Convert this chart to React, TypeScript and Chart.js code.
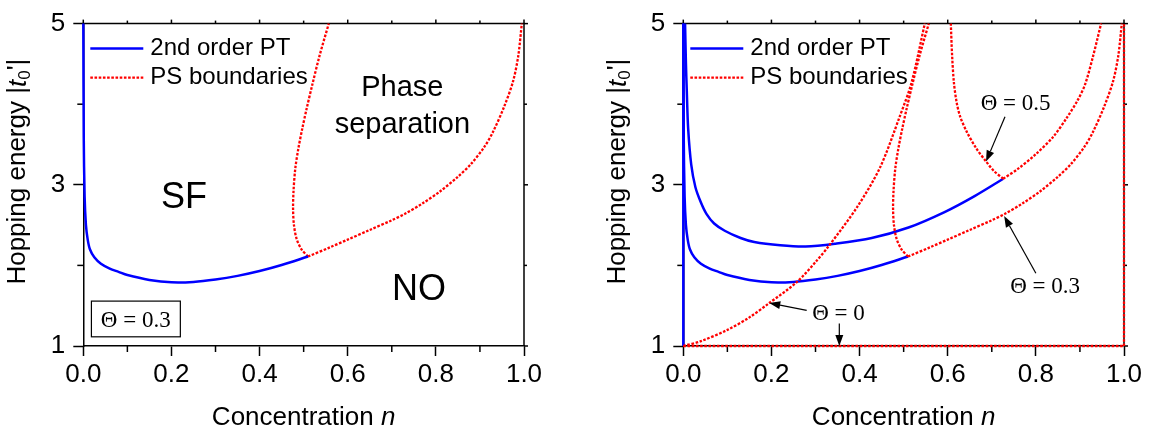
import React, { useEffect, useRef } from 'react';
import { Chart, registerables } from 'chart.js';

Chart.register(...registerables);

const SANS = '"Liberation Sans", Arial, Helvetica, sans-serif';
const SERIF = '"Liberation Serif", "Times New Roman", Times, serif';
const BLUE = '#0000ff';
const RED = '#ff0000';

// ---- axes / ticks ----
const X_TICK_LABELS = ['0.0', '0.2', '0.4', '0.6', '0.8', '1.0'];
const Y_TICK_LABELS = ['1', '3', '5'];
const X_MINOR_TICKS = [0.1, 0.3, 0.5, 0.7, 0.9];
const X_MAJOR_TICKS = [0, 0.2, 0.4, 0.6, 0.8, 1.0];
const Y_MINOR_TICKS = [2, 4];
const Y_MAJOR_TICKS = [1, 3, 5];

// ---- 2nd order phase transition lines ----
const pt0N = [0, 0];
const pt0T = [1, 5];

const pt03N = [0, 0.001, 0.003, 0.006, 0.01, 0.015, 0.025, 0.04, 0.06, 0.08, 0.1, 0.15, 0.2, 0.25, 0.3, 0.35, 0.4, 0.45, 0.51];
const pt03T = [5, 3.6, 2.85, 2.5, 2.32, 2.2, 2.1, 2.02, 1.96, 1.92, 1.88, 1.82, 1.79, 1.795, 1.825, 1.87, 1.93, 2.005, 2.11];

const pt05N = [0.004, 0.006, 0.008, 0.011, 0.018, 0.0275, 0.04, 0.0525, 0.07, 0.094, 0.13, 0.161, 0.22, 0.2775, 0.344, 0.4275, 0.511, 0.594, 0.661, 0.726];
const pt05T = [5, 4.5, 4.15, 3.7, 3.25, 2.97, 2.78, 2.64, 2.52, 2.43, 2.34, 2.29, 2.25, 2.235, 2.27, 2.34, 2.47, 2.665, 2.86, 3.075];

// ---- phase separation boundaries ----
const ps0CurveN = [0, 0.04, 0.1, 0.15, 0.195, 0.257, 0.303, 0.33, 0.394, 0.446, 0.492, 0.518, 0.548];
const ps0CurveT = [1, 1.06, 1.2, 1.355, 1.533, 1.79, 2.06, 2.24, 2.72, 3.21, 3.86, 4.27, 5];
const ps0BottomN = [0, 1];
const ps0BottomT = [1, 1];
const ps0EdgeN = [1, 1];
const ps0EdgeT = [1, 5];

const ps03LeftN = [0.51, 0.495, 0.484, 0.478, 0.476, 0.477, 0.481, 0.488, 0.497, 0.507, 0.52, 0.536, 0.557];
const ps03LeftT = [2.11, 2.2, 2.33, 2.5, 2.7, 2.92, 3.2, 3.45, 3.7, 3.95, 4.25, 4.6, 5];
const ps03RightN = [0.51, 0.56, 0.6, 0.65, 0.7, 0.73, 0.77, 0.81, 0.85, 0.88, 0.91, 0.93, 0.955, 0.975, 0.987, 0.995];
const ps03RightT = [2.11, 2.225, 2.32, 2.44, 2.56, 2.64, 2.77, 2.92, 3.1, 3.26, 3.47, 3.66, 3.97, 4.28, 4.6, 5.0];

const ps05LeftN = [0.726, 0.705, 0.687, 0.665, 0.643, 0.628, 0.62, 0.614, 0.61, 0.607];
const ps05LeftT = [3.075, 3.17, 3.29, 3.45, 3.66, 3.85, 4.03, 4.27, 4.6, 5];
const ps05RightN = [0.726, 0.76, 0.8, 0.84, 0.87, 0.895, 0.912, 0.93, 0.948];
const ps05RightT = [3.075, 3.2, 3.38, 3.6, 3.83, 4.05, 4.25, 4.6, 5.0];

const LEGEND_LABELS = ['2nd order PT', 'PS boundaries'];

const RED_DASH = [2.6, 1.6];

const zip = (xs: number[], ys: number[]) => xs.map((x, i) => ({ x, y: ys[i] }));

const blueLine = (xs: number[], ys: number[], tension = 0.3) => ({
  data: zip(xs, ys),
  borderColor: BLUE,
  backgroundColor: BLUE,
  borderWidth: 2.5,
  tension,
  showLine: true,
  pointRadius: 0,
  fill: false,
  clip: 5,
});
const redLine = (xs: number[], ys: number[], tension = 0.3) => ({
  data: zip(xs, ys),
  borderColor: RED,
  backgroundColor: RED,
  borderWidth: 2.3,
  borderDash: RED_DASH,
  tension,
  showLine: true,
  pointRadius: 0,
  fill: false,
  clip: 5,
});

type Ann =
  | { kind: 'text'; n: number; t: number; text: string; font: string }
  | { kind: 'box'; n1: number; t1: number; n2: number; t2: number }
  | { kind: 'arrow'; n1: number; t1: number; n2: number; t2: number };

type Spec = {
  left: number;
  w: number;
  yAxisW: number;
  padRight: number;
  datasets: any[];
  anns: Ann[];
};

function line(ctx: CanvasRenderingContext2D, x1: number, y1: number, x2: number, y2: number) {
  ctx.beginPath();
  ctx.moveTo(x1, y1);
  ctx.lineTo(x2, y2);
  ctx.stroke();
}

function arrow(ctx: CanvasRenderingContext2D, x1: number, y1: number, x2: number, y2: number) {
  const ang = Math.atan2(y2 - y1, x2 - x1);
  const L = 11;
  const W = 4;
  const bx = x2 - L * Math.cos(ang);
  const by = y2 - L * Math.sin(ang);
  ctx.lineWidth = 1.2;
  line(ctx, x1, y1, bx, by);
  ctx.beginPath();
  ctx.moveTo(x2, y2);
  ctx.lineTo(bx + W * Math.sin(ang), by - W * Math.cos(ang));
  ctx.lineTo(bx - W * Math.sin(ang), by + W * Math.cos(ang));
  ctx.closePath();
  ctx.fill();
}

function makePlugin(spec: Spec) {
  return {
    id: 'panelDeco',
    beforeDatasetsDraw(chart: any) {
      const { ctx, chartArea: a, scales } = chart;
      const x = scales.x;
      const y = scales.y;
      ctx.save();
      ctx.strokeStyle = '#000';
      ctx.lineWidth = 1.5;
      line(ctx, a.left - 0.75, a.top, a.right + 0.75, a.top);
      line(ctx, a.right, a.top, a.right, a.bottom);
      X_MINOR_TICKS.forEach((v) => {
        const px = x.getPixelForValue(v);
        line(ctx, px, a.bottom, px, a.bottom + 6);
        line(ctx, px, a.top, px, a.top - 3);
      });
      X_MAJOR_TICKS.forEach((v) => {
        const px = x.getPixelForValue(v);
        line(ctx, px, a.top, px, a.top - 4);
      });
      Y_MINOR_TICKS.forEach((v) => {
        const py = y.getPixelForValue(v);
        line(ctx, a.left, py, a.left - 6, py);
        line(ctx, a.right, py, a.right + 3, py);
      });
      Y_MAJOR_TICKS.forEach((v) => {
        const py = y.getPixelForValue(v);
        line(ctx, a.right, py, a.right + 4, py);
      });
      ctx.restore();
    },
    afterDraw(chart: any) {
      const { ctx, chartArea: a, scales } = chart;
      const x = scales.x;
      const y = scales.y;
      ctx.save();
      ctx.fillStyle = '#000';
      ctx.strokeStyle = '#000';

      // y title
      ctx.save();
      ctx.translate(a.left - 65, a.top + 261);
      ctx.rotate(-Math.PI / 2);
      ctx.textAlign = 'left';
      ctx.textBaseline = 'middle';
      let xx = 0;
      const reg = `26px ${SANS}`;
      ctx.font = reg;
      ctx.fillText('Hopping energy |', xx, 0);
      xx += ctx.measureText('Hopping energy |').width;
      ctx.font = `italic 26px ${SANS}`;
      ctx.fillText('t', xx, 0);
      xx += ctx.measureText('t').width;
      ctx.font = `17px ${SANS}`;
      ctx.fillText('0', xx, 7);
      xx += ctx.measureText('0').width;
      ctx.font = reg;
      ctx.fillText("'|", xx, 0);
      ctx.restore();

      // x title
      ctx.textBaseline = 'alphabetic';
      ctx.textAlign = 'left';
      ctx.font = reg;
      const p1 = 'Concentration ';
      const w1 = ctx.measureText(p1).width;
      ctx.font = `italic 26px ${SANS}`;
      const w2 = ctx.measureText('n').width;
      const cx = (a.left + a.right) / 2;
      const sx = cx - (w1 + w2) / 2;
      ctx.font = reg;
      ctx.fillText(p1, sx, 425);
      ctx.font = `italic 26px ${SANS}`;
      ctx.fillText('n', sx + w1, 425);

      // legend
      const rows = [a.top + 25, a.top + 54];
      ctx.lineWidth = 2.5;
      ctx.strokeStyle = BLUE;
      line(ctx, a.left + 7, rows[0], a.left + 60, rows[0]);
      ctx.lineWidth = 2.3;
      ctx.strokeStyle = RED;
      ctx.setLineDash(RED_DASH);
      line(ctx, a.left + 7, rows[1], a.left + 60, rows[1]);
      ctx.setLineDash([]);
      ctx.font = `24px ${SANS}`;
      ctx.textBaseline = 'middle';
      ctx.textAlign = 'left';
      ctx.fillStyle = '#000';
      ctx.fillText(LEGEND_LABELS[0], a.left + 67, rows[0]);
      ctx.fillText(LEGEND_LABELS[1], a.left + 67, rows[1]);

      // annotations
      ctx.strokeStyle = '#000';
      ctx.fillStyle = '#000';
      spec.anns.forEach((an) => {
        if (an.kind === 'text') {
          ctx.font = an.font;
          ctx.textAlign = 'center';
          ctx.textBaseline = 'middle';
          ctx.fillText(an.text, x.getPixelForValue(an.n), y.getPixelForValue(an.t));
        } else if (an.kind === 'box') {
          const x1 = x.getPixelForValue(an.n1);
          const x2 = x.getPixelForValue(an.n2);
          const y1 = y.getPixelForValue(an.t1);
          const y2 = y.getPixelForValue(an.t2);
          ctx.lineWidth = 1.2;
          ctx.strokeRect(x1, y1, x2 - x1, y2 - y1);
        } else {
          arrow(
            ctx,
            x.getPixelForValue(an.n1),
            y.getPixelForValue(an.t1),
            x.getPixelForValue(an.n2),
            y.getPixelForValue(an.t2)
          );
        }
      });
      ctx.restore();
    },
  };
}

function buildConfig(spec: Spec): any {
  const tickFont = { family: SANS, size: 26 };
  return {
    type: 'scatter',
    data: { datasets: spec.datasets },
    plugins: [makePlugin(spec)],
    options: {
      animation: false,
      responsive: false,
      maintainAspectRatio: false,
      events: [],
      layout: { padding: { left: 0, right: spec.padRight, top: 21, bottom: 0 } },
      plugins: { legend: { display: false }, tooltip: { enabled: false } },
      elements: { point: { radius: 0 } },
      scales: {
        x: {
          type: 'linear',
          position: 'bottom',
          min: 0,
          max: 1,
          ticks: {
            stepSize: 0.2,
            autoSkip: false,
            maxRotation: 0,
            padding: 3,
            color: '#000',
            font: tickFont,
            callback: (v: number) => X_TICK_LABELS[Math.round(v / 0.2)] ?? '',
          },
          grid: {
            drawOnChartArea: false,
            drawTicks: true,
            tickLength: 10,
            tickColor: '#000',
            tickWidth: 1.5,
          },
          border: { display: true, color: '#000', width: 1.5 },
          afterFit: (s: any) => {
            s.height = 84;
          },
        },
        y: {
          type: 'linear',
          position: 'left',
          min: 1,
          max: 5,
          ticks: {
            stepSize: 2,
            autoSkip: false,
            padding: 8,
            color: '#000',
            font: tickFont,
            callback: (v: number) => Y_TICK_LABELS[Math.round((v - 1) / 2)] ?? '',
          },
          grid: {
            drawOnChartArea: false,
            drawTicks: true,
            tickLength: 10,
            tickColor: '#000',
            tickWidth: 1.5,
          },
          border: { display: true, color: '#000', width: 1.5 },
          afterFit: (s: any) => {
            s.width = spec.yAxisW;
          },
        },
      },
    },
  };
}

const THETA_FONT = `23px ${SERIF}`;

const leftSpec: Spec = {
  left: 0,
  w: 580,
  yAxisW: 83.3,
  padRight: 56,
  datasets: [
    blueLine(pt03N, pt03T),
    redLine(ps03LeftN, ps03LeftT),
    redLine(ps03RightN, ps03RightT),
  ],
  anns: [
    { kind: 'text', n: 0.2285, t: 2.838, text: 'SF', font: `36px ${SANS}` },
    { kind: 'text', n: 0.762, t: 1.689, text: 'NO', font: `36px ${SANS}` },
    { kind: 'text', n: 0.724, t: 4.2, text: 'Phase', font: `29px ${SANS}` },
    { kind: 'text', n: 0.724, t: 3.741, text: 'separation', font: `29px ${SANS}` },
    { kind: 'box', n1: 0.0184, t1: 1.557, n2: 0.2202, t2: 1.114 },
    { kind: 'text', n: 0.119, t: 1.311, text: 'Θ = 0.3', font: THETA_FONT },
  ],
};

const rightSpec: Spec = {
  left: 580,
  w: 575,
  yAxisW: 103.3,
  padRight: 31,
  datasets: [
    redLine(ps0CurveN, ps0CurveT),
    redLine(ps03LeftN, ps03LeftT),
    redLine(ps03RightN, ps03RightT),
    redLine(ps05LeftN, ps05LeftT),
    redLine(ps05RightN, ps05RightT),
    blueLine(pt0N, pt0T, 0),
    blueLine(pt03N, pt03T),
    blueLine(pt05N, pt05T),
    redLine(ps0BottomN, ps0BottomT, 0),
    redLine(ps0EdgeN, ps0EdgeT, 0),
  ],
  anns: [
    { kind: 'text', n: 0.754, t: 4.007, text: 'Θ = 0.5', font: THETA_FONT },
    { kind: 'arrow', n1: 0.73, t1: 3.843, n2: 0.687, t2: 3.289 },
    { kind: 'text', n: 0.821, t: 1.73, text: 'Θ = 0.3', font: THETA_FONT },
    { kind: 'arrow', n1: 0.8, t1: 1.902, n2: 0.728, t2: 2.612 },
    { kind: 'text', n: 0.352, t: 1.402, text: 'Θ = 0', font: THETA_FONT },
    { kind: 'arrow', n1: 0.28, t1: 1.443, n2: 0.195, t2: 1.533 },
    { kind: 'arrow', n1: 0.354, t1: 1.279, n2: 0.354, t2: 1.0 },
  ],
};

function Panel({ spec }: { spec: Spec }) {
  const ref = useRef<HTMLCanvasElement | null>(null);
  useEffect(() => {
    if (!ref.current) return;
    const chart = new Chart(ref.current, buildConfig(spec));
    return () => chart.destroy();
  }, [spec]);
  return (
    <canvas
      ref={ref}
      width={spec.w}
      height={430}
      style={{ position: 'absolute', left: spec.left, top: 0, width: spec.w, height: 430 }}
    />
  );
}

export default function App() {
  return (
    <div style={{ position: 'fixed', left: 0, top: 0, width: 1155, height: 430, background: '#fff' }}>
      <Panel spec={leftSpec} />
      <Panel spec={rightSpec} />
    </div>
  );
}
